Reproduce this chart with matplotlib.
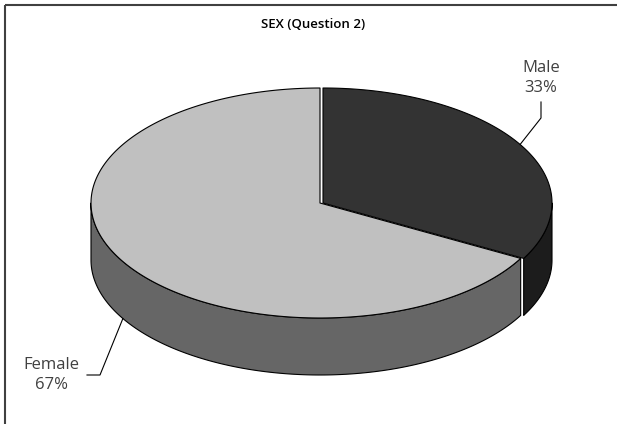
import numpy as np
import matplotlib
matplotlib.use("Agg")
import matplotlib.pyplot as plt
from matplotlib.patches import Polygon

# Survey breakdown: respondents by sex
categories = ["Male", "Female"]
shares = [33, 67]
top_colors = ["#333333", "#c0c0c0"]
side_colors = ["#1c1c1c", "#666666"]
title = "SEX (Question 2)"

W, H = 617, 424
fig = plt.figure(figsize=(W / 100, H / 100), dpi=100)
ax = fig.add_axes([0, 0, 1, 1])
ax.set_xlim(0, W)
ax.set_ylim(H, 0)
ax.axis("off")

plt.rcParams["font.family"] = ["Open Sans", "DejaVu Sans"]

# Projected pie geometry (screen units, y downward)
cx, cy = 320.0, 203.0
ra, rb = 229.0, 115.0
depth = 57.0
explode = {"Male": (3.0, 0.0), "Female": (0.0, 0.0)}


def pt(theta_deg, off, z=0.0):
    t = np.radians(theta_deg)
    return (cx + off[0] + ra * np.cos(t), cy + off[1] - rb * np.sin(t) + z)


def arc(t0, t1, off, z=0.0, n=200):
    ts = np.linspace(t0, t1, n)
    return [pt(t, off, z) for t in ts]


# slice angular ranges: start at 12 o'clock, Male clockwise, Female counter-clockwise
total = float(sum(shares))
male_span = 360.0 * shares[0] / total
male_rng = (90.0 - male_span, 90.0)
female_rng = (90.0, 90.0 + 360.0 * shares[1] / total)
rngs = {"Male": male_rng, "Female": female_rng}
edge_kw = dict(edgecolor="black", linewidth=0.8, joinstyle="round")


def side_wall(name, color):
    lo, hi = rngs[name]
    off = explode[name]
    # visible front half lies between 180 and 360 degrees
    segs = []
    for a0, a1 in [(lo, hi), (lo + 360, hi + 360), (lo - 360, hi - 360)]:
        s0, s1 = max(a0, 180.0), min(a1, 360.0)
        if s1 > s0:
            segs.append((s0, s1))
    for s0, s1 in segs:
        poly = arc(s0, s1, off) + arc(s1, s0, off, depth)
        ax.add_patch(Polygon(poly, closed=True, facecolor=color, **edge_kw))


def top_face(name, color):
    lo, hi = rngs[name]
    off = explode[name]
    c = (cx + off[0], cy + off[1])
    poly = [c] + arc(lo, hi, off)
    ax.add_patch(Polygon(poly, closed=True, facecolor=color, **edge_kw))


side_wall("Female", side_colors[1])
side_wall("Male", side_colors[0])
top_face("Female", top_colors[1])
top_face("Male", top_colors[0])

# Title
ax.text(313, 25, title, ha="center", va="center", fontsize=9.5,
        fontweight="semibold", color="black")

# Data labels with leader lines
label_color = "#404040"
lab_fs = 12

mm = (male_rng[0] + male_rng[1]) / 2
p = pt(mm, explode["Male"])
ax.plot([p[0], 541, 541], [p[1], 118, 102], color="black", lw=0.8)
ax.text(541, 78, f"{categories[0]}\n{shares[0]}%", ha="center", va="center",
        fontsize=lab_fs, color=label_color, linespacing=1.35)

fm = (female_rng[0] + female_rng[1]) / 2
p = pt(fm, explode["Female"], depth)
ax.plot([p[0], 100, 87], [p[1], 375, 375], color="black", lw=0.8)
ax.text(51, 375, f"{categories[1]}\n{shares[1]}%", ha="center", va="center",
        fontsize=lab_fs, color=label_color, linespacing=1.35)

# Frame lines along top and left edges
ax.plot([4.5, W], [4.5, 4.5], color="#404040", lw=1.5, solid_capstyle="butt")
ax.plot([4.5, 4.5], [4.5, H], color="#404040", lw=1.5, solid_capstyle="butt")

fig.savefig("out.png", dpi=100, facecolor="white")
